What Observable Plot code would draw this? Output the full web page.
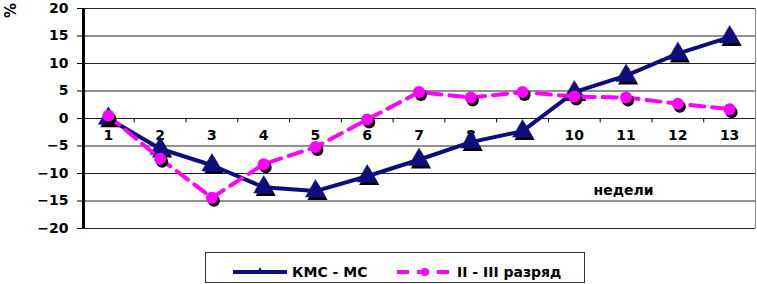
<!DOCTYPE html>
<html><head><meta charset="utf-8">
<script src="https://cdn.jsdelivr.net/npm/d3@7"></script>
<script src="https://cdn.jsdelivr.net/npm/@observablehq/plot@0.6"></script>
<style>
body{margin:0;background:#fff;font-family:"DejaVu Sans",sans-serif;}
#chart{width:757px;}
#legend{display:block;}
</style></head><body><div id="chart"></div>
<script>
const weeks = [1,2,3,4,5,6,7,8,9,10,11,12,13];
const kmsMs = [0,-5.5,-8.5,-12.5,-13.2,-10.5,-7.5,-4.3,-2.3,4.8,7.8,11.8,14.8];
const razryad = [0.5,-7.3,-14.4,-8.3,-5.2,-0.2,4.8,3.8,4.8,4.0,3.8,2.7,1.7];
const yTicks = [-20,-15,-10,-5,0,5,10,15,20];
const seriesNames = ["КМС - МС","II - III разряд"];
const xLabel = "недели";
const yLabel = "%";

const navy = "#0d0d80";
const pink = "#ff00ff";

const dataA = weeks.map((w,i)=>({week:w, value:kmsMs[i]}));
const dataB = weeks.map((w,i)=>({week:w, value:razryad[i]}));
const bounds = weeks.slice(0,-1).map(w=>w+0.5);

const plot = Plot.plot({
  width:757, height:248,
  marginTop:8, marginBottom:20, marginLeft:82, marginRight:2,
  style:{fontFamily:"DejaVu Sans", fontSize:"14px", fontWeight:"bold", color:"#000", background:"#fff", overflow:"visible"},
  x:{type:"linear", domain:[0.5,13.5], axis:null},
  y:{domain:[-20,20], axis:null},
  marks:[
    Plot.ruleY(yTicks, {stroke:"#222", strokeWidth:1}),
    Plot.ruleX([13.5], {stroke:"#888", strokeWidth:1}),
    Plot.ruleX(bounds, {x:d=>d, y1:0, y2:-0.8, stroke:"#000", strokeWidth:1}),
    Plot.axisY({ticks:yTicks, tickSize:5, tickPadding:9, label:null, fill:"#000", stroke:"#000"}),
    Plot.ruleX([0.5], {stroke:"#000", strokeWidth:3, dx:1}),
    Plot.text(weeks, {x:d=>d, y:0, dy:17, text:d=>String(d), fill:"#000"}),
    Plot.line(dataA, {x:"week", y:"value", stroke:navy, strokeWidth:4}),
    Plot.dot(dataA, {x:"week", y:"value", symbol:"triangle", r:7.5, fill:"#000", dx:2, dy:3}),
    Plot.dot(dataA, {x:"week", y:"value", symbol:"triangle", r:7.5, fill:navy, stroke:"#222070", strokeWidth:0.5}),
    Plot.line(dataB, {x:"week", y:"value", stroke:pink, strokeWidth:4, strokeDasharray:"14,8"}),
    Plot.dot(dataB, {x:"week", y:"value", r:6, fill:"#000", dx:2, dy:3}),
    Plot.dot(dataB, {x:"week", y:"value", r:6, fill:pink}),
    Plot.text([xLabel], {frameAnchor:"top-left", dx:623-82, dy:185-8, textAnchor:"middle", fill:"#000"}),
    Plot.text([yLabel], {frameAnchor:"top-left", dx:14-82, dy:10-8, rotate:90, textAnchor:"middle", fill:"#000", fontSize:15})
  ]
});
document.getElementById("chart").appendChild(plot);

// legend below the chart
const leg = d3.select("#chart").append("svg")
  .attr("id","legend").attr("width",757).attr("height",36)
  .style("font-family","DejaVu Sans").style("font-weight","bold").style("font-size","14px");
leg.append("rect").attr("x",205.5).attr("y",4.5).attr("width",379).attr("height",30)
  .attr("fill","#fff").attr("stroke","#333").attr("stroke-width",1);
const cy = 24;
leg.append("line").attr("x1",233).attr("x2",287).attr("y1",cy).attr("y2",cy)
  .attr("stroke",navy).attr("stroke-width",4);
leg.append("path").attr("d",d3.symbol(d3.symbolTriangle2, 30)()).attr("transform",`translate(260,${cy-1})`).attr("fill",navy);
leg.append("text").attr("x",292).attr("y",cy).attr("dy","0.35em").text(seriesNames[0]);
leg.append("line").attr("x1",397).attr("x2",453).attr("y1",cy).attr("y2",cy)
  .attr("stroke",pink).attr("stroke-width",4).attr("stroke-dasharray","12,8");
leg.append("circle").attr("cx",425).attr("cy",cy).attr("r",4).attr("fill",pink);
leg.append("text").attr("x",457).attr("y",cy).attr("dy","0.35em").text(seriesNames[1]);
</script></body></html>
